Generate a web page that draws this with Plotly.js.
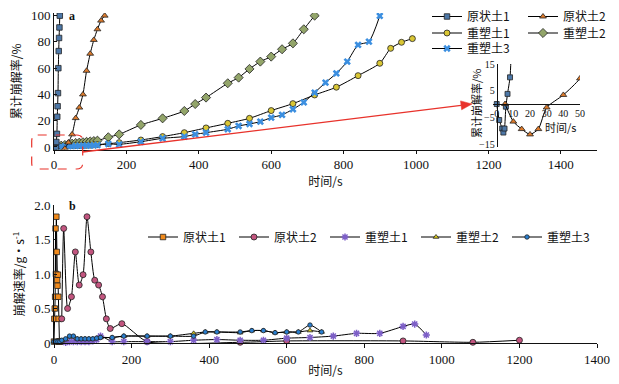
<!DOCTYPE html>
<html><head><meta charset="utf-8">
<script src="https://cdn.plot.ly/plotly-3.0.1.min.js"></script>
<style>body{margin:0;background:#fff}</style>
</head><body><div id="chart" style="width:619px;height:384px"></div>
<script>
// ---------- Panel a: cumulative disintegration ratio (%) ----------
const yz1_t = [0,1.5,3.3,4,4.7,5.5,6.5,8,9,10,11,12,13,14,15,16];
const yz1_v = [0,-6,-9.2,-10.7,-9.2,-1,3.8,10,23,31,41,60,73,83,91,100];
const yz2_t = [5,10,15,20,25,30,40,50,60,70,80,90,100,110,120,130,140];
const yz2_v = [0,-6.6,-9.4,-11.4,-9.4,-1.3,3.4,9.6,22,30,40,58,71,81.5,89.6,96.2,100];
const cs1_t = [0,10,20,30,40,50,60,70,80,90,100,110,120,150,180,240,300,360,420,480,540,600,660,720,780,840,900,930,960,990];
const cs1_v = [0,0.3,0.5,0.6,0.8,0.9,1.0,1.1,1.2,1.3,1.4,1.6,1.8,2.5,3.3,5.3,7.9,10.9,14.5,18,21.8,27.7,33,39.6,45.5,54.3,63.7,75.1,79.7,82.5];
const cs2_t = [0,10,20,30,40,50,60,70,80,90,100,110,120,150,180,240,300,360,390,420,480,510,540,570,600,630,660,690,720];
const cs2_v = [0,0.5,1,1.5,2,2.5,3,3.3,3.6,3.9,4.2,4.5,4.8,7.4,9.6,16.8,21.8,27.4,32.7,37.6,48.5,52.8,59.4,65,68.8,74.4,78.9,89.6,100];
const cs3_t = [0,10,20,30,40,50,60,70,80,90,100,110,120,150,180,240,300,360,390,420,480,510,540,570,600,630,660,690,720,750,780,810,840,870,900];
const cs3_v = [0,0.2,0.3,0.4,0.5,0.6,0.7,0.8,0.9,1.0,1.1,1.2,1.4,2.3,2.0,4.0,6.6,7.9,9.6,10.9,13.5,16,17.5,19.3,22.3,24.4,28.7,34,41.4,49,56,65,77.7,80.2,99.8];

// ---------- Panel b: disintegration rate (g/s) ----------
const r_yz1_t = [0,1,2,3,4,5,6,7,8,9,10,11,12,13,14,15,16];
const r_yz1_v = [0.02,0.35,0.5,0.67,1.66,1.0,1.83,1.32,0.91,0.83,0.99,0.67,0.35,0.02,0.02,0.02,0.02];
const r_yz2_t = [20,25,35,45,55,65,75,85,95,105,115,125,135,145,175,240,480,600,900,1080,1200];
const r_yz2_v = [0.35,1.66,0.5,0.67,1.32,0.84,0.99,1.83,1.32,0.91,0.84,0.67,0.35,0.21,0.28,0.02,0.01,0.03,0.03,0.01,0.04];
const r_cs1_t = [30,40,50,60,70,80,90,100,110,120,150,180,240,300,360,420,480,540,600,660,720,780,840,900,930,960];
const r_cs1_v = [0.01,0.02,0.02,0.02,0.02,0.02,0.02,0.03,0.05,0.1,0.02,0.02,0.02,0.02,0.04,0.05,0.04,0.04,0.07,0.08,0.1,0.14,0.14,0.24,0.275,0.116];
const r_cs2_t = [0,10,20,30,40,50,60,70,80,90,100,110,120,150,180,240,300,360,390,420,480,510,540,570,600,630,660,690];
const r_cs2_v = [0.02,0.02,0.03,0.05,0.09,0.09,0.06,0.06,0.06,0.06,0.06,0.07,0.08,0.08,0.1,0.1,0.1,0.14,0.16,0.16,0.15,0.18,0.18,0.15,0.16,0.16,0.18,0.16];
const r_cs3_t = [0,5,10,15,20,30,40,50,60,70,80,90,100,110,120,150,180,240,300,360,390,420,480,510,540,570,600,630,660,690];
const r_cs3_v = [0.02,0.02,0.02,0.02,0.04,0.06,0.1,0.1,0.06,0.06,0.06,0.06,0.06,0.07,0.08,0.08,0.1,0.1,0.1,0.1,0.16,0.16,0.16,0.18,0.18,0.15,0.16,0.16,0.26,0.16];

const names = ['原状土1','原状土2','重塑土1','重塑土2','重塑土3'];
const xTicksA = [0,200,400,600,800,1000,1200,1400];
const yTicksA = [0,20,40,60,80,100];
const yTicksB = [0,0.5,1,1.5,2];
const yTextB = ['0','0.5','1.0','1.5','2.0'];
const xTicksIn = [0,10,20,30,40,50];
const yTicksIn = [-15,-5,5,15];

// ---------- layout geometry (pixels) ----------
const W = 619, H = 384, L = 54, R = 22;
const PW = W - L - R;
const px2x = p => (p - L) / PW;
const py2y = p => 1 - p / H;

const serif = 'Liberation Serif, Times New Roman, serif';
const cjk = 'Noto Sans CJK SC, Liberation Serif';
const ink = '#111';
const ol = {color:'#222', width:0.8};

function tr(x, y, name, sym, size, color, xa, ya, legend, showlegend, extra) {
  return Object.assign({
    type:'scatter', mode:'lines+markers', x:x, y:y, name:name,
    xaxis:xa, yaxis:ya, legend:legend, showlegend:showlegend,
    line:{color:'#000', width:1, shape:'spline', smoothing:0.6},
    marker:{symbol:sym, size:size, color:color, line:ol}
  }, extra||{});
}

const cA = {yz1:'#4d78a8', yz2:'#db7a2c', cs1:'#d9c634', cs2:'#93a56a', cs3:'#3c8fe0'};
const cB = {yz1:'#f08a1c', yz2:'#c2557f', cs1:'#7d5fc7', cs2:'#d8c81c', cs3:'#2a7fd0'};

const data = [
  tr(cs2_t, cs2_v, names[3], 'diamond', 7, cA.cs2, 'x','y','legend2', true, {cliponaxis:true}),
  tr(cs1_t, cs1_v, names[2], 'circle', 6, cA.cs1, 'x','y','legend2', true, {cliponaxis:true}),
  tr(cs3_t, cs3_v, names[4], 'x', 6.5, cA.cs3, 'x','y','legend3', true, {cliponaxis:true, marker:{symbol:'x', size:6.5, color:cA.cs3, line:{width:0}}}),
  tr(yz2_t, yz2_v, names[1], 'triangle-up', 6, cA.yz2, 'x','y','legend', true, {cliponaxis:true}),
  tr(yz1_t, yz1_v, names[0], 'square', 5.5, cA.yz1, 'x','y','legend', true, {cliponaxis:true}),
  tr(yz1_t, yz1_v, names[0], 'square', 5, cA.yz1, 'x3','y3','legend', false, {cliponaxis:true}),
  tr(yz2_t, yz2_v, names[1], 'triangle-up', 6, cA.yz2, 'x3','y3','legend', false, {cliponaxis:true}),
  tr(r_yz1_t, r_yz1_v, names[0], 'square', 5.5, cB.yz1, 'x2','y2','legend4', true, {cliponaxis:false, line:{color:'#000', width:1}}),
  tr(r_yz2_t, r_yz2_v, names[1], 'circle', 6, cB.yz2, 'x2','y2','legend4', true, {cliponaxis:false}),
  tr(r_cs1_t, r_cs1_v, names[2], 'asterisk', 6, cB.cs1, 'x2','y2','legend4', true, {cliponaxis:false, marker:{symbol:'asterisk', size:6, color:cB.cs1, line:{color:cB.cs1, width:1.5}}}),
  tr(r_cs2_t, r_cs2_v, names[3], 'triangle-up', 5, cB.cs2, 'x2','y2','legend4', true, {cliponaxis:false}),
  tr(r_cs3_t, r_cs3_v, names[4], 'circle', 4.5, cB.cs3, 'x2','y2','legend4', true, {cliponaxis:false})
];
data.forEach(d => { d.legendrank = names.indexOf(d.name); });

const tickFont = {family:serif, size:13, color:ink};
const axBase = {showline:true, linecolor:ink, linewidth:1, showgrid:false, zeroline:false, tickcolor:ink, tickfont:tickFont};

function leg(xp, ytop, ew) {
  return {x:px2x(xp), xanchor:'left', y:py2y(ytop), yanchor:'top', orientation:'h',
    entrywidth:ew, entrywidthmode:'pixels', bgcolor:'rgba(0,0,0,0)', borderwidth:0,
    font:{family:cjk, size:12, color:ink}, traceorder:'normal'};
}

const inX0 = px2x(496.7 - 2*1.667), inX1 = px2x(580);
// dashed rounded box (pixels)
const boxL = 31.7, boxR = 82.7, boxT = 135, boxB = 169, rr = 6;
const bx0 = px2x(boxL), bx1 = px2x(boxR), by0 = py2y(boxT), by1 = py2y(boxB);
const rx = rr / PW, ry = rr / H;
const boxPath = `M ${bx0+rx} ${by0} L ${bx1-rx} ${by0} Q ${bx1} ${by0} ${bx1} ${by0-ry} L ${bx1} ${by1+ry} Q ${bx1} ${by1} ${bx1-rx} ${by1} L ${bx0+rx} ${by1} Q ${bx0} ${by1} ${bx0} ${by1+ry} L ${bx0} ${by0-ry} Q ${bx0} ${by0} ${bx0+rx} ${by0} Z`;
// red arrow (pixels)
const tail = [82.7, 152], head = [472, 104];
const dx = head[0]-tail[0], dy = head[1]-tail[1], dl = Math.hypot(dx, dy);
const ux = dx/dl, uy = dy/dl, hl = 11, hw = 4.5;
const base = [head[0]-hl*ux, head[1]-hl*uy];
const c1 = [base[0]-hw*uy, base[1]+hw*ux], c2 = [base[0]+hw*uy, base[1]-hw*ux];
const P = p => `${px2x(p[0])} ${py2y(p[1])}`;
const red = '#e8322b';

const layout = {
  width:W, height:H, margin:{l:L, r:R, t:0, b:0},
  paper_bgcolor:'#fff', plot_bgcolor:'rgba(0,0,0,0)',
  font:{family:serif, size:12, color:ink},
  xaxis: Object.assign({}, axBase, {domain:[0,1], range:[0,1500], anchor:'y', tickvals:xTicksA, ticks:'outside', ticklen:3,
    title:{text:'时间/s', font:{family:cjk, size:12, color:ink}, standoff:0}}),
  yaxis: Object.assign({}, axBase, {domain:[py2y(149.6), py2y(13)], range:[-2,102], anchor:'x', tickvals:yTicksA, ticks:'inside', ticklen:3,
    title:{text:'累计崩解率/%', font:{family:cjk, size:12, color:ink}, standoff:6}}),
  xaxis2: Object.assign({}, axBase, {domain:[0,1], range:[0,1400], anchor:'y2', tickvals:xTicksA, ticks:'outside', ticklen:4,
    title:{text:'时间/s', font:{family:cjk, size:12, color:ink}, standoff:1}}),
  yaxis2: Object.assign({}, axBase, {domain:[py2y(343), py2y(205)], range:[0,2], anchor:'x2', tickvals:yTicksB, ticktext:yTextB, ticks:'inside', ticklen:3,
    title:{text:'崩解速率/g·s<sup>-1</sup>', font:{family:cjk, size:12, color:ink}, standoff:6}}),
  xaxis3: Object.assign({}, axBase, {domain:[inX0, inX1], range:[-2,50], anchor:'free', position:py2y(104), tickvals:xTicksIn, ticks:'', ticklen:0,
    tickfont:{family:serif, size:10, color:ink}}),
  yaxis3: Object.assign({}, axBase, {domain:[py2y(146.7), py2y(64)], range:[-16,15], anchor:'free', position:px2x(496.7), tickvals:yTicksIn, ticks:'', ticklen:0,
    tickfont:{family:serif, size:10, color:ink}}),
  legend: leg(427, 2, 51),
  legend2: leg(427, 18.5, 51),
  legend3: leg(427, 34, 51),
  legend4: leg(143, 222.5, 46),
  shapes:[
    {type:'path', xref:'paper', yref:'paper', path:boxPath, line:{color:red, width:1.2, dash:'dash'}, fillcolor:'rgba(0,0,0,0)'},
    {type:'line', xref:'paper', yref:'paper', x0:px2x(tail[0]), y0:py2y(tail[1]), x1:px2x(base[0]), y1:py2y(base[1]), line:{color:red, width:1.3}},
    {type:'path', xref:'paper', yref:'paper', path:`M ${P(head)} L ${P(c1)} L ${P(c2)} Z`, line:{color:red, width:0.5}, fillcolor:red}
  ],
  annotations:[
    {xref:'paper', yref:'paper', x:px2x(67), y:py2y(16), xanchor:'left', yanchor:'middle', text:'<b>a</b>', showarrow:false, font:{family:serif, size:12, color:ink}},
    {xref:'paper', yref:'paper', x:px2x(67), y:py2y(206), xanchor:'left', yanchor:'middle', text:'<b>b</b>', showarrow:false, font:{family:serif, size:12, color:ink}},
    {xref:'paper', yref:'paper', x:px2x(560), y:py2y(127), xanchor:'center', yanchor:'middle', text:'时间/s', showarrow:false, font:{family:cjk, size:11, color:ink}},
    {xref:'paper', yref:'paper', x:px2x(476), y:py2y(104), xanchor:'center', yanchor:'middle', text:'累计崩解率/%', textangle:-90, showarrow:false, font:{family:cjk, size:11, color:ink}}
  ]
};

Plotly.newPlot('chart', data, layout, {displayModeBar:false, staticPlot:true});
</script>
</body></html>
